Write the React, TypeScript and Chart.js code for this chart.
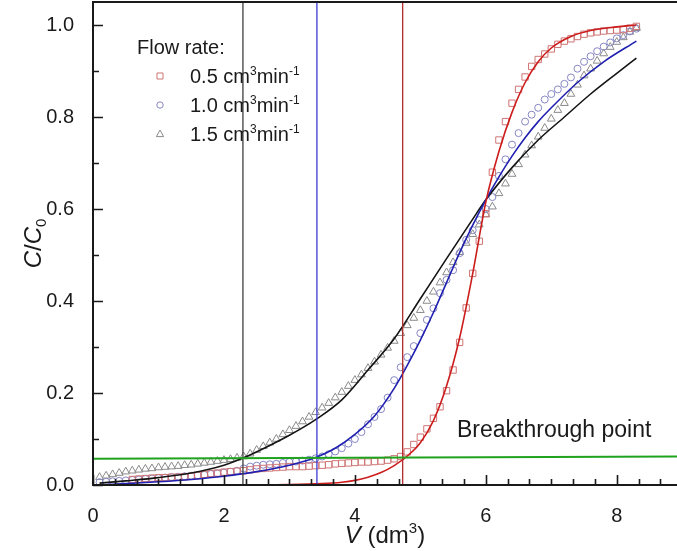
import React, { useEffect, useRef } from "react";
import { Chart, registerables } from "chart.js";

Chart.register(...registerables);

// ---------------- data ----------------
const V_POINTS = [
  0.1, 0.2, 0.3, 0.4, 0.5, 0.6, 0.7, 0.8, 0.9, 1.0,
  1.1, 1.2, 1.3, 1.4, 1.5, 1.6, 1.7, 1.8, 1.9, 2.0,
  2.1, 2.2, 2.3, 2.4, 2.5, 2.6, 2.7, 2.8, 2.9, 3.0,
  3.1, 3.2, 3.3, 3.4, 3.5, 3.6, 3.7, 3.8, 3.9, 4.0,
  4.1, 4.2, 4.3, 4.4, 4.5, 4.6, 4.7, 4.8, 4.9, 5.0,
  5.1, 5.2, 5.3, 5.4, 5.5, 5.6, 5.7, 5.8, 5.9, 6.0,
  6.1, 6.2, 6.3, 6.4, 6.5, 6.6, 6.7, 6.8, 6.9, 7.0,
  7.1, 7.2, 7.3, 7.4, 7.5, 7.6, 7.7, 7.8, 7.9, 8.0,
  8.1, 8.2, 8.3,
];

// 0.5 cm3/min (squares)
const C_05 = [
  null, null, null, null, null, 0.012, 0.013, 0.014, 0.015, 0.016,
  0.016, 0.017, 0.017, 0.018, 0.019, 0.021, 0.023, 0.025, 0.026, 0.028,
  0.029, 0.030, 0.031, 0.033, 0.035, 0.036, 0.037, 0.038, 0.039, 0.040,
  0.040, 0.040, 0.041, 0.042, 0.043, 0.044, 0.046, 0.047, 0.048, 0.049,
  0.050, 0.050, 0.051, 0.052, 0.054, 0.057, 0.062, 0.072, 0.088, 0.104,
  0.122, 0.145, 0.170, 0.205, 0.250, 0.310, 0.385, 0.460, 0.530, 0.590,
  0.680, 0.750, 0.790, 0.830, 0.860, 0.887, 0.910, 0.925, 0.937, 0.948,
  0.958, 0.965, 0.970, 0.975, 0.980, 0.983, 0.985, 0.987, 0.988, 0.989,
  0.990, 0.993, 0.997,
];

// 1.0 cm3/min (circles)
const C_10 = [
  0.006, 0.007, 0.008, 0.009, 0.010, 0.011, 0.012, 0.013, 0.014, 0.015,
  0.016, 0.017, 0.018, 0.019, 0.020, 0.021, 0.022, 0.024, 0.025, 0.027,
  0.029, 0.031, 0.036, 0.040, 0.042, 0.044, 0.045, 0.046, 0.048, 0.050,
  0.051, 0.053, 0.055, 0.058, 0.062, 0.067, 0.073, 0.080, 0.090, 0.100,
  0.115, 0.132, 0.148, 0.165, 0.190, 0.228, 0.256, 0.278, 0.302, 0.330,
  0.359, 0.384, 0.417, 0.446, 0.467, 0.504, 0.533, 0.554, 0.576, 0.600,
  0.626, 0.672, 0.708, 0.740, 0.765, 0.790, 0.805, 0.820, 0.838, 0.850,
  0.860, 0.872, 0.886, 0.905, 0.920, 0.932, 0.943, 0.953, 0.962, 0.971,
  0.978, 0.986, 0.992,
];

// 1.5 cm3/min (triangles)
const C_15 = [
  0.017, 0.020, 0.023, 0.026, 0.029, 0.031, 0.033, 0.035, 0.036, 0.038,
  0.039, 0.040, 0.041, 0.043, 0.044, 0.046, 0.048, 0.050, 0.052, 0.054,
  0.056, 0.059, 0.062, 0.068, 0.076, 0.084, 0.092, 0.100, 0.110, 0.119,
  0.128, 0.138, 0.148, 0.158, 0.168, 0.178, 0.190, 0.202, 0.215, 0.228,
  0.240, 0.254, 0.268, 0.283, 0.298, 0.313, 0.330, 0.347, 0.363, 0.380,
  0.400, 0.420, 0.440, 0.462, 0.484, 0.506, 0.526, 0.545, 0.566, 0.588,
  0.605, 0.634, 0.655, 0.676, 0.697, 0.718, 0.738, 0.757, 0.776, 0.796,
  0.815, 0.830, 0.850, 0.870, 0.890, 0.905, 0.922, 0.938, 0.952, 0.963,
  0.973, 0.985, 0.993,
];

// fitted curves
const FIT_05_V = [0.1, 1.0, 2.0, 3.0, 3.5, 3.8, 4.0, 4.2, 4.4, 4.6, 4.8, 5.0, 5.2, 5.4, 5.6, 5.8, 6.0, 6.2, 6.4, 6.6, 6.8, 7.0, 7.3, 7.6, 8.0, 8.3];
const FIT_05_C = [0, 0, 0, 0.001, 0.003, 0.006, 0.010, 0.017, 0.027, 0.042, 0.063, 0.092, 0.140, 0.215, 0.320, 0.460, 0.615, 0.725, 0.810, 0.875, 0.920, 0.950, 0.975, 0.988, 0.996, 1.0];

const FIT_10_V = [0.1, 0.5, 1.0, 1.5, 2.0, 2.5, 3.0, 3.4, 3.7, 4.0, 4.3, 4.6, 4.8, 5.0, 5.2, 5.4, 5.6, 5.8, 6.0, 6.2, 6.4, 6.6, 6.8, 7.0, 7.4, 7.8, 8.3];
const FIT_10_C = [0.0, 0.003, 0.007, 0.012, 0.019, 0.029, 0.043, 0.060, 0.080, 0.110, 0.150, 0.210, 0.260, 0.315, 0.375, 0.440, 0.505, 0.565, 0.620, 0.670, 0.715, 0.755, 0.790, 0.820, 0.875, 0.920, 0.965];

const FIT_15_V = [0.1, 0.5, 1.0, 1.5, 2.0, 2.3, 2.7, 3.0, 3.4, 3.8, 4.2, 4.6, 5.0, 5.4, 5.8, 6.0, 6.4, 6.8, 7.2, 7.6, 8.0, 8.3];
const FIT_15_C = [0.004, 0.009, 0.016, 0.026, 0.043, 0.059, 0.086, 0.108, 0.142, 0.185, 0.250, 0.318, 0.405, 0.492, 0.578, 0.620, 0.690, 0.750, 0.800, 0.850, 0.895, 0.928];

// breakthrough volumes (vertical lines) and breakthrough level (green line)
const BREAK_V = [2.29, 3.42, 4.73];
const BREAK_LINE_V = [0, 8.93];
const BREAK_LINE_C = [0.057, 0.062];

const SERIES_LABELS = ["0.5", "1.0", "1.5"];
const X_TICKS = [0, 2, 4, 6, 8];
const Y_TICKS = [0.0, 0.2, 0.4, 0.6, 0.8, 1.0];

// ---------------- styling ----------------
const FONT = '"Liberation Sans", Arial, Helvetica, sans-serif';
const TEXT = "#1a1a1a";
const SQ_COLOR = "#cf7474";
const CI_COLOR = "#8585c4";
const TR_COLOR = "#8a8a8a";

type Part = { t: string; italic?: boolean; sup?: boolean; sub?: boolean };

function drawRich(
  ctx: CanvasRenderingContext2D,
  parts: Part[],
  x: number,
  baseline: number,
  size: number,
  align: "left" | "center"
) {
  const small = Math.round(size * 0.62);
  const fontFor = (p: Part) =>
    `${p.italic ? "italic " : ""}${p.sup || p.sub ? small : size}px ${FONT}`;
  let total = 0;
  const widths = parts.map((p) => {
    ctx.font = fontFor(p);
    const w = ctx.measureText(p.t).width;
    total += w;
    return w;
  });
  let cx = align === "center" ? x - total / 2 : x;
  ctx.textAlign = "left";
  ctx.textBaseline = "alphabetic";
  parts.forEach((p, i) => {
    ctx.font = fontFor(p);
    let dy = 0;
    if (p.sup) dy = -size * 0.42;
    if (p.sub) dy = size * 0.22;
    ctx.fillText(p.t, cx, baseline + dy);
    cx += widths[i];
  });
}

function drawMarker(ctx: CanvasRenderingContext2D, style: string, x: number, y: number, color: string) {
  ctx.save();
  ctx.strokeStyle = color;
  ctx.lineWidth = 1;
  ctx.beginPath();
  if (style === "rect") {
    ctx.rect(x - 3, y - 3, 6, 6);
  } else if (style === "circle") {
    ctx.arc(x, y, 3.2, 0, Math.PI * 2);
  } else {
    ctx.moveTo(x, y - 4);
    ctx.lineTo(x + 3.6, y + 2.6);
    ctx.lineTo(x - 3.6, y + 2.6);
    ctx.closePath();
  }
  ctx.stroke();
  ctx.restore();
}

const decorPlugin = {
  id: "decor",
  afterDatasetsDraw(chart: any) {
    const { ctx, chartArea: a, scales } = chart;
    const xs = scales.x;
    const ys = scales.y;
    ctx.save();

    // frame (left, bottom, top; right side is cropped away)
    ctx.strokeStyle = TEXT;
    ctx.lineWidth = 2;
    ctx.beginPath();
    ctx.moveTo(a.right + 2, a.top);
    ctx.lineTo(a.left, a.top);
    ctx.lineTo(a.left, a.bottom);
    ctx.lineTo(a.right + 2, a.bottom);
    ctx.stroke();

    // inward ticks
    ctx.lineWidth = 1.6;
    ctx.beginPath();
    const xStep = 2 / 6;
    for (let k = 0; k * xStep <= xs.max + 1e-9; k++) {
      const v = k * xStep;
      const px = Math.round(xs.getPixelForValue(v)) + 0.5;
      const len = k % 6 === 0 ? 10 : 6;
      ctx.moveTo(px, a.bottom);
      ctx.lineTo(px, a.bottom - len);
    }
    const yStep = 0.1;
    for (let k = 0; k * yStep <= ys.max + 1e-9; k++) {
      const v = k * yStep;
      const py = Math.round(ys.getPixelForValue(v)) + 0.5;
      const len = k % 2 === 0 ? 10 : 6;
      ctx.moveTo(a.left, py);
      ctx.lineTo(a.left + len, py);
    }
    ctx.stroke();

    ctx.fillStyle = TEXT;

    // axis titles
    drawRich(
      ctx,
      [{ t: "V", italic: true }, { t: " (dm" }, { t: "3", sup: true }, { t: ")" }],
      (a.left + a.right) / 2,
      543,
      24,
      "center"
    );
    ctx.save();
    ctx.translate(33, (a.top + a.bottom) / 2);
    ctx.rotate(-Math.PI / 2);
    drawRich(
      ctx,
      [{ t: "C", italic: true }, { t: "/" }, { t: "C", italic: true }, { t: "0", sub: true }],
      0,
      8,
      24,
      "center"
    );
    ctx.restore();

    // legend
    drawRich(ctx, [{ t: "Flow rate:" }], 137, 54, 20, "left");
    const ds = chart.data.datasets.filter((d: any) => d.isSeries);
    const rows = [76, 105, 134];
    ds.forEach((d: any, i: number) => {
      drawMarker(ctx, d.pointStyle, 160, rows[i], d.borderColor);
      ctx.fillStyle = TEXT;
      drawRich(
        ctx,
        [{ t: `${d.label} cm` }, { t: "3", sup: true }, { t: "min" }, { t: "-1", sup: true }],
        190,
        rows[i] + 7,
        20,
        "left"
      );
    });

    // annotation
    ctx.fillStyle = TEXT;
    drawRich(
      ctx,
      [{ t: "Breakthrough point" }],
      xs.getPixelForValue(5.56),
      ys.getPixelForValue(0.104),
      23,
      "left"
    );
    ctx.restore();
  },
};

const zeroPad = (s: any) => {
  s.paddingTop = 0;
  s.paddingBottom = 0;
  s.paddingLeft = 0;
  s.paddingRight = 0;
};

export default function App() {
  const ref = useRef<HTMLCanvasElement>(null);

  useEffect(() => {
    document.body.style.margin = "0";
    const canvas = ref.current!;

    const pts = (ys: (number | null)[]) =>
      V_POINTS.map((v, i) => ({ x: v, y: ys[i] })).filter((p) => p.y !== null);
    const curve = (vs: number[], cs: number[]) => vs.map((v, i) => ({ x: v, y: cs[i] }));

    const lineDs = (data: any[], color: string, width: number, smooth = true) => ({
      type: "scatter",
      data,
      showLine: true,
      borderColor: color,
      backgroundColor: color,
      borderWidth: width,
      pointRadius: 0,
      fill: false,
      cubicInterpolationMode: smooth ? "monotone" : "default",
      tension: 0,
    });

    const vertColors = ["#3d3d3d", "#3b3bd6", "#b52a2a"];

    const datasets: any[] = [
      lineDs(curve(BREAK_LINE_V, BREAK_LINE_C), "#1fa31f", 2, false),
      ...BREAK_V.map((v, i) =>
        lineDs(
          [
            { x: v, y: 0 },
            { x: v, y: 1.05 },
          ],
          vertColors[i],
          1.3,
          false
        )
      ),
      lineDs(curve(FIT_05_V, FIT_05_C), "#cc1c1c", 1.6),
      lineDs(curve(FIT_10_V, FIT_10_C), "#2020b0", 1.6),
      lineDs(curve(FIT_15_V, FIT_15_C), "#141414", 1.6),
      {
        isSeries: true,
        label: SERIES_LABELS[0],
        data: pts(C_05),
        pointStyle: "rect",
        pointRadius: 4.5,
        borderColor: SQ_COLOR,
        backgroundColor: "rgba(0,0,0,0)",
        borderWidth: 1,
        showLine: false,
      },
      {
        isSeries: true,
        label: SERIES_LABELS[1],
        data: pts(C_10),
        pointStyle: "circle",
        pointRadius: 3.5,
        borderColor: CI_COLOR,
        backgroundColor: "rgba(0,0,0,0)",
        borderWidth: 1,
        showLine: false,
      },
      {
        isSeries: true,
        label: SERIES_LABELS[2],
        data: pts(C_15),
        pointStyle: "triangle",
        pointRadius: 4.5,
        borderColor: TR_COLOR,
        backgroundColor: "rgba(0,0,0,0)",
        borderWidth: 1,
        showLine: false,
      },
    ];

    const chart = new Chart(canvas, {
      type: "scatter",
      data: { datasets },
      options: {
        responsive: false,
        animation: false,
        devicePixelRatio: 1,
        layout: { autoPadding: false, padding: { top: 2, right: 0, bottom: 0, left: 0 } },
        plugins: {
          legend: { display: false },
          tooltip: { enabled: false },
        },
        scales: {
          x: {
            type: "linear",
            min: 0,
            max: 8.92,
            grid: { display: false },
            border: { display: false },
            afterFit: (s: any) => {
              s.height = 66;
              zeroPad(s);
            },
            afterBuildTicks: (s: any) => {
              s.ticks = X_TICKS.map((v) => ({ value: v }));
            },
            ticks: {
              padding: 11,
              color: TEXT,
              font: { family: FONT, size: 20 },
              callback: (v: any) => String(v),
              maxRotation: 0,
              autoSkip: false,
            },
          },
          y: {
            type: "linear",
            min: 0,
            max: 1.05,
            grid: { display: false },
            border: { display: false },
            afterFit: (s: any) => {
              s.width = 93;
              zeroPad(s);
            },
            afterBuildTicks: (s: any) => {
              s.ticks = Y_TICKS.map((v) => ({ value: v }));
            },
            ticks: {
              padding: 11,
              color: TEXT,
              font: { family: FONT, size: 20 },
              callback: (v: any) => Number(v).toFixed(1),
              autoSkip: false,
            },
          },
        },
      },
      plugins: [decorPlugin],
    } as any);

    return () => chart.destroy();
  }, []);

  return (
    <div style={{ width: 677, height: 551 }}>
      <canvas ref={ref} width={677} height={551} style={{ display: "block" }} />
    </div>
  );
}
